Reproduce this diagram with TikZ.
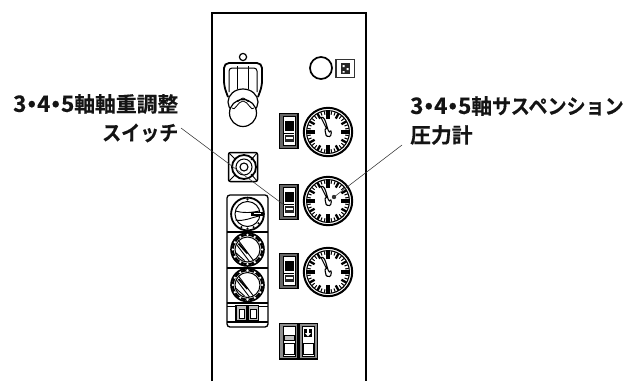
\documentclass[tikz,border=0pt]{standalone}
\usepackage{fontspec}
\setmainfont{Noto Sans CJK JP Bold}
\newfontfamily\lbl[FakeBold=0.35]{Noto Sans CJK JP Bold}
\tikzset{x=1pt,y=-1pt,
  lab/.style={inner sep=0pt,text=black!92,font=\fontsize{20.8pt}{28pt}\selectfont\lbl},
  leader/.style={line width=0.55pt,black!80},
  ln/.style={line width=1.2pt,black},
  thk/.style={line width=1.9pt,black}}
\newcommand{\dg}[1]{{\fontsize{22.5pt}{28pt}\selectfont #1}}
\newcommand{\lb}{\kern1.2pt\raisebox{1.2pt}{\scalebox{1.05}{•}}\kern1.2pt}
\newcommand{\kn}[1]{\scalebox{0.915}[1]{#1}}
\newcommand{\gaugeat}[2]{%
 \begin{scope}[shift={(#1,#2)}]
  \draw[line width=2pt,fill=white] (0,0) circle (24.2);
  \draw[line width=1.1pt] (0,0) circle (21.4);
  \foreach \a in {0,90,180,270}{\draw[line width=3.2pt] (\a:13)--(\a:21);}
  \foreach \a in {30,60,120,150,210,240,300,330}{\draw[line width=2.3pt] (\a:15.5)--(\a:21);}
  \foreach \a in {10,20,40,50,70,80,100,110,130,140,160,170,190,200,220,230,250,260,280,290,310,320,340,350}{\draw[line width=1pt] (\a:17.5)--(\a:21);}
  \draw[line width=1.1pt,fill=white] (-7,-14.5)--(-1.5,-3.5) to[out=180,in=100] (-2,3) to[out=-80,in=180] (1.5,4.5) to[out=0,in=60] (2.5,-1) to[out=-120,in=30] (-7,-14.5);
 \end{scope}}
\newcommand{\rockerat}[2]{%
 \begin{scope}[shift={(#1,#2)}]
  \draw[line width=1.8pt,fill=black!60] (0.5,0.5) rectangle (19,35.5);
  \draw[line width=1pt,fill=white] (4,3.5) rectangle (16,32);
  \fill[black] (5.5,8) rectangle (15,18);
  \draw[line width=0.6pt] (5,20)--(15,20);
  \fill[black!85] (5.5,22) rectangle (15,28.5);
  \fill[white] (7,24) rectangle (14,25.5);
 \end{scope}}
\newcommand{\dialat}[3]{%
 \begin{scope}[shift={(#1,#2)}]
  \draw[line width=1.8pt,fill=white] (0,0) circle (16.4);
  \draw[line width=1pt] (0,0) circle (12.5);
  \ifnum#3=1
   \draw[line width=0.9pt] (-12,-3) to[out=-15,in=190] (12,-3);
   \draw[line width=0.9pt] (-12,6) to[out=-10,in=190] (12,2);
   \fill[black] (3,-2.5) rectangle (15,2);
   \draw[white,line width=0.6pt] (6,-1)--(13,-1);
   \foreach \a in {-90,40,65,90,115}{\fill (\a:14.5) circle (1.2);}
  \else
   \draw[line width=2pt] (0,0) circle (14.6);
   \foreach \a in {0,30,...,330}{\fill[white] (\a:14.6) circle (1.3);}
   \draw[line width=0.9pt] (-9,-9)--(6,11);
   \draw[line width=0.9pt] (-11,-5)--(2,12);
   \draw[line width=1.8pt] (-9,-6)--(0,4);
   \draw[line width=0.9pt] (-12,3)--(-3,11);
  \fi
 \end{scope}}
\begin{document}
\begin{tikzpicture}
\useasboundingbox (0,0) rectangle (634,381);
% panel
\draw[thk] (212,381)--(212,13)--(366,13)--(366,381);
% lever
\draw[ln] (243,57) circle (3.6);
\draw[line width=1.8pt,fill=white,rounded corners=5pt] (228,97)--(224,86)--(224,63)--(262,63)--(262,86)--(258,97);
\draw[line width=1pt,rounded corners=3pt] (229,92)--(229,68)--(257,68)--(257,92);
\draw[line width=1pt] (237,66)--(237,89) (248,66)--(248,89);
\draw[ln,fill=white] (243,102) ellipse (15 and 13);
\draw[ln,fill=white] (243,113) ellipse (13.5 and 13.5);
\draw[line width=0.8pt] (237,101) to[out=-70,in=180] (243,98) to[out=0,in=-110] (249,101);
\draw[line width=0.8pt] (232,108) to[out=-60,in=180] (243,101) to[out=0,in=-120] (254,108);
% key switch
\draw[line width=1.5pt,rounded corners=2pt,fill=white] (228.5,152.5) rectangle (257.5,181.5);
\draw[line width=0.9pt] (229,153)--(236,160) (257,153)--(251,160) (229,181)--(236,174) (257,181)--(251,174);
\draw[line width=1.8pt] (244,167) circle (12);
\draw[line width=1pt] (244,167) circle (8);
\draw[line width=1.1pt] (244,167) circle (4);
% top right
\draw[line width=1.7pt] (321,68) circle (11);
\draw[line width=1.2pt,draw=black!80] (336,59.5) rectangle (354.5,77.5);
\fill[black!85] (341,63) rectangle (350,74);
\fill[white] (342.5,65) rectangle (344.5,67) (346.5,68) rectangle (348.5,70) (342.5,71) rectangle (344.5,72.5);
% gauges and rockers
\gaugeat{328}{132}
\gaugeat{328}{201}
\gaugeat{328}{272}
\rockerat{279}{113}
\rockerat{279}{184}
\rockerat{279}{253}
% knob panel
\draw[line width=1.3pt,rounded corners=3pt,fill=white] (227,195) rectangle (268,327);
\draw[line width=1.3pt] (227,232)--(268,232) (227,268)--(268,268);
\draw[line width=2pt] (227,303)--(268,303);
\draw[line width=0.6pt] (227,306)--(268,306);
\draw[line width=1.3pt] (227,322)--(268,322);
\dialat{247.5}{214}{1}
\dialat{247.5}{249.5}{2}
\dialat{247.5}{285}{2}
\draw[line width=1.2pt,fill=black!25] (236,305.5) rectangle (247,321);
\draw[line width=1.2pt,fill=black!25] (248,305.5) rectangle (258.5,321);
\draw[line width=0.8pt,fill=white] (239,309) rectangle (244.5,318.5);
\draw[line width=0.8pt,fill=white] (250.5,309) rectangle (256.5,318.5);
% double switch
\draw[line width=1.6pt,fill=black!45] (279.5,323.5) rectangle (298,359);
\draw[line width=1.6pt,fill=black!45] (299,323.5) rectangle (317.5,359);
\draw[line width=0.7pt,fill=white] (283,326) rectangle (295,356);
\draw[line width=0.7pt,fill=black!25] (284,335) rectangle (294,340);
\draw[line width=0.9pt,fill=white] (284,343) rectangle (294,354);
\draw[line width=0.7pt,fill=white] (302,326) rectangle (314,356);
\fill[black] (304,329) rectangle (312,337);
\fill[white] (307,329) rectangle (309,333);
\fill[white] (305,333) -- (311,333) -- (308,336.5) -- cycle;
\draw[line width=0.9pt,fill=white] (303.5,343) rectangle (313,354);
% labels
\node[lab,anchor=east] (leftA) at (178.5,104) {\dg{3}\lb\dg{4}\lb\dg{5}軸軸重調整};
\node[lab,anchor=east] (leftB) at (178.5,133) {\kn{スイッチ}};
\node[lab,anchor=west] (rightA) at (410,106) {\dg{3}\lb\dg{4}\lb\dg{5}軸\kn{サスペンション}};
\node[lab,anchor=west] (rightB) at (410,135) {圧力計};
% leaders
\coordinate (swEnd) at (284,205);
\coordinate (swStart) at (181,128);
\coordinate (gEnd) at (334,197);
\coordinate (gStart) at (402,145);
\draw[leader] (swStart)--(swEnd);
\draw[leader] (gStart)--(gEnd);
\fill[black!80] (gEnd) circle (2.2);
\end{tikzpicture}
\end{document}
